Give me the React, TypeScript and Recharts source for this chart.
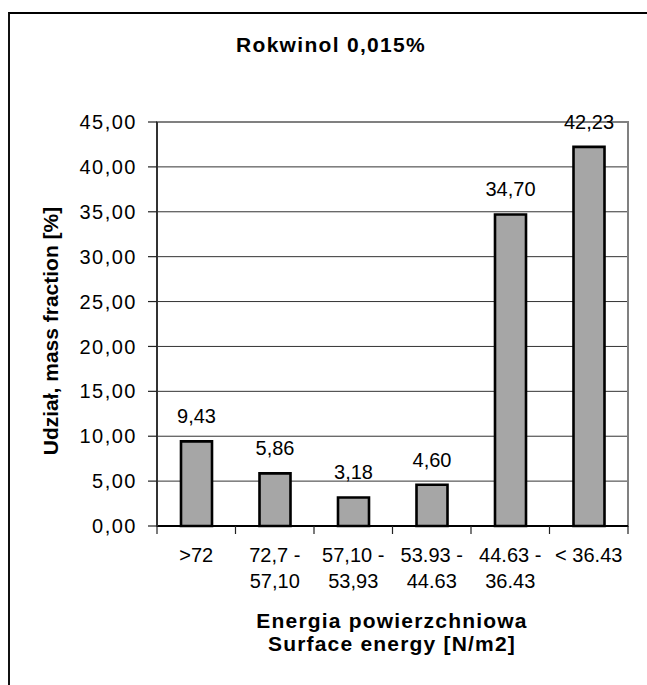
import { BarChart, Bar, XAxis, YAxis, CartesianGrid, LabelList, ReferenceArea } from "recharts";

const FONT = "'Liberation Sans', Arial, sans-serif";

const categories = [">72", "72,7 -", "57,10 -", "53.93 -", "44.63 -", "< 36.43"];
const categoriesLine2 = ["", "57,10", "53,93", "44.63", "36.43", ""];
const massFraction = [9.43, 5.86, 3.18, 4.6, 34.7, 42.23];
const yTicks = [0, 5, 10, 15, 20, 25, 30, 35, 40, 45];

const chartData = categories.map((name, i) => ({ name, value: massFraction[i] }));

const comma = (v: any) => Number(v).toFixed(2).replace(".", ",");

function XTick(props: any) {
  const { x, y, payload, index } = props;
  const half = payload?.offset ?? 39.25;
  const last = index === categories.length - 1;
  return (
    <g>
      <line x1={x - half} y1={y} x2={x - half} y2={y + 8} stroke="#222" strokeWidth={1.2} />
      {last && <line x1={x + half} y1={y} x2={x + half} y2={y + 8} stroke="#222" strokeWidth={1.2} />}
      <text x={x} y={y + 36} textAnchor="middle" fontSize={20} fontFamily={FONT} fill="#000">
        {categories[index]}
      </text>
      {categoriesLine2[index] && (
        <text x={x} y={y + 62} textAnchor="middle" fontSize={20} fontFamily={FONT} fill="#000">
          {categoriesLine2[index]}
        </text>
      )}
    </g>
  );
}

export default function App() {
  return (
    <div style={{ position: "absolute", left: 0, top: 0, width: 647, height: 685, background: "#fff", overflow: "hidden" }}>
      <div style={{ position: "absolute", left: 8, top: 12, width: 700, height: 700, borderLeft: "2px solid #111", borderTop: "2px solid #000" }} />
      <div style={{ position: "absolute", left: 0, top: 0 }}>
        <BarChart width={647} height={685} data={chartData} margin={{ top: 122, right: 19, bottom: 99, left: 97 }}>
          <CartesianGrid horizontal vertical={false} stroke="#333" strokeWidth={1} />
          <ReferenceArea y1={0} y2={45} fill="none" stroke="#808080" strokeWidth={2} ifOverflow="visible" />
          <XAxis
            dataKey="name"
            height={60}
            interval={0}
            tickSize={0}
            tickMargin={0}
            tickLine={false}
            axisLine={{ stroke: "#000", strokeWidth: 2 }}
            tick={<XTick />}
          />
          <YAxis
            width={60}
            domain={[0, 45]}
            ticks={yTicks}
            interval={0}
            tickSize={9}
            tickMargin={11}
            tickFormatter={comma}
            axisLine={{ stroke: "#333", strokeWidth: 2 }}
            tickLine={{ stroke: "#222", strokeWidth: 1.2 }}
            tick={{ fill: "#000", fontSize: 20, fontFamily: FONT, letterSpacing: 1.5 }}
          />
          <Bar dataKey="value" fill="#a6a6a6" stroke="#000" strokeWidth={2.6} barSize={31} isAnimationActive={false}>
            <LabelList dataKey="value" position="top" offset={18} formatter={comma} fill="#000" fontSize={20} fontFamily={FONT} />
          </Bar>
        </BarChart>
      </div>
      <svg width={647} height={685} style={{ position: "absolute", left: 0, top: 0, pointerEvents: "none" }}>
        <text x={331} y={52} textAnchor="middle" fontSize={21} fontWeight="bold" fontFamily={FONT} letterSpacing={1.3} fill="#000">
          Rokwinol 0,015%
        </text>
        <text x={58} y={331} textAnchor="middle" fontSize={21} fontWeight="bold" fontFamily={FONT} fill="#000" transform="rotate(-90 58 331)">
          Udział, mass fraction [%]
        </text>
        <text x={392} y={628} textAnchor="middle" fontSize={21} fontWeight="bold" fontFamily={FONT} letterSpacing={1.2} fill="#000">
          Energia powierzchniowa
        </text>
        <text x={392} y={651} textAnchor="middle" fontSize={21} fontWeight="bold" fontFamily={FONT} letterSpacing={1.2} fill="#000">
          Surface energy [N/m2]
        </text>
      </svg>
    </div>
  );
}
